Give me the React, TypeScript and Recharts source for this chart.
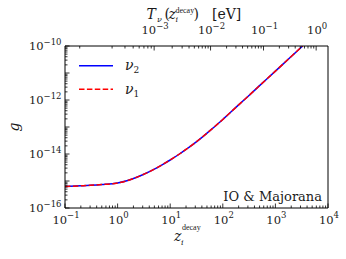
import React from "react";
import { Customized, Legend, Line, LineChart, XAxis, YAxis } from "recharts";

// redshift of decay and the coupling g
const zDecay = [0.1, 0.2, 0.3, 0.5, 1, 1.5, 2, 3, 5, 7, 10, 15, 20, 30, 50, 100, 200, 300, 500, 1000, 2000, 3300];
const gNu2 = [
  6.2e-16, 6.6e-16, 6.9e-16, 7.4e-16, 8.5e-16, 1.02e-15, 1.23e-15, 1.7e-15, 2.75e-15, 3.98e-15, 6.0e-15,
  1.0e-14, 1.48e-14, 2.63e-14, 5.9e-14, 1.9e-13, 6.6e-13, 1.35e-12, 3.4e-12, 1.17e-11, 4.1e-11, 1.0e-10,
];
const gNu1 = [
  6.2e-16, 6.6e-16, 6.9e-16, 7.4e-16, 8.5e-16, 1.02e-15, 1.23e-15, 1.7e-15, 2.75e-15, 3.98e-15, 6.0e-15,
  1.0e-14, 1.48e-14, 2.63e-14, 5.9e-14, 1.9e-13, 6.6e-13, 1.35e-12, 3.4e-12, 1.17e-11, 4.1e-11, 1.0e-10,
];

const xDecades = [-1, 4];
const yDecades = [-16, -10];
const topDecades = [-4, 0];
const T_NU0 = 1.68e-4; // eV, neutrino temperature today

const FONT = "'DejaVu Serif', 'Liberation Serif', serif";
const NARROW = "'Liberation Serif', serif";
const INK = "#1a1a1a";

const data = zDecay.map((z, i) => ({ z, nu2: gNu2[i], nu1: gNu1[i] }));

function logTicks(lo: number, hi: number) {
  const out: number[] = [];
  for (let e = lo; e < hi; e++) for (let m = 1; m < 10; m++) out.push(Number(`${m}e${e}`));
  out.push(Number(`1e${hi}`));
  return out;
}

const isDecade = (v: number) => Math.abs(Math.log10(v) - Math.round(Math.log10(v))) < 1e-6;
const expOf = (v: number) => {
  const e = Math.round(Math.log10(v));
  return e < 0 ? `\u2212${-e}` : `${e}`;
};

const xTicks = logTicks(xDecades[0], xDecades[1]);
const yTicks = logTicks(yDecades[0], yDecades[1]);
const topTicks = logTicks(topDecades[0], topDecades[1])
  .concat([2])
  .map((T) => T / T_NU0 - 1)
  .filter((z) => z >= 0.1 && z <= 1e4);

function Pow10({ x, y, v, anchor }: { x: number; y: number; v: number; anchor: "middle" | "end" }) {
  return (
    <text x={x} y={y} textAnchor={anchor} fontFamily={FONT} fontSize={11.5} fill={INK}>
      <tspan>10</tspan>
      <tspan dy={-5.5} fontSize={8.5}>{expOf(v)}</tspan>
    </text>
  );
}

// ticks: the axis line sits at (x, y) because tickSize and tickMargin are 0
function BottomTick(props: any) {
  const { x, y, payload } = props;
  const major = isDecade(payload.value);
  return (
    <g>
      <line x1={x} x2={x} y1={y} y2={y - (major ? 4.5 : 2.5)} stroke="#000" strokeWidth={0.8} />
      {major && <Pow10 x={x + 1} y={y + 15.5} v={payload.value} anchor="middle" />}
    </g>
  );
}

function TopTick(props: any) {
  const { x, y, payload } = props;
  const T = T_NU0 * (1 + payload.value);
  const major = isDecade(T);
  return (
    <g>
      <line x1={x} x2={x} y1={y} y2={y + (major ? 4.5 : 2.5)} stroke="#000" strokeWidth={0.8} />
      {major && <Pow10 x={x + 1} y={y - 12} v={T} anchor="middle" />}
    </g>
  );
}

function LeftTick(props: any) {
  const { x, y, payload } = props;
  const v = payload.value;
  const major = isDecade(v);
  const labelled = major && Math.round(Math.log10(v)) % 2 === 0;
  return (
    <g>
      <line x1={x} x2={x + (major ? 4.5 : 2.5)} y1={y} y2={y} stroke="#000" strokeWidth={0.8} />
      {labelled && <Pow10 x={x - 3.5} y={y + 4} v={v} anchor="end" />}
    </g>
  );
}

function Annotations() {
  return (
    <g fontFamily={FONT} fill={INK}>
      {/* top axis title */}
      <text y={18.5} fontSize={14}>
        <tspan x={146.5} fontStyle="italic">T</tspan>
        <tspan x={157} y={22} fontSize={8} fontStyle="italic">ν</tspan>
        <tspan x={164.5} y={18.5}>(</tspan>
        <tspan x={168.5} fontStyle="italic">z</tspan>
        <tspan x={175.5} y={12.5} fontSize={8} fontFamily={NARROW}>decay</tspan>
        <tspan x={175.5} y={22} fontSize={8} fontStyle="italic">i</tspan>
        <tspan x={193.5} y={18.5}>)</tspan>
        <tspan x={212}>[eV]</tspan>
      </text>
      {/* bottom axis title */}
      <text y={241} fontSize={14}>
        <tspan x={174} fontStyle="italic">z</tspan>
        <tspan x={182} y={230} fontSize={8} fontFamily={NARROW}>decay</tspan>
        <tspan x={181} y={245} fontSize={8} fontStyle="italic">i</tspan>
      </text>
      {/* y axis title */}
      <text x={19} y={127} fontSize={14} fontStyle="italic" textAnchor="middle" transform="rotate(-90 19 127)">
        g
      </text>
      <text x={322} y={200.5} fontSize={13} textAnchor="end">IO &amp; Majorana</text>
    </g>
  );
}

function LegendBox() {
  return (
    <svg width={80} height={50} style={{ display: "block", overflow: "visible" }}>
      <g fontFamily={FONT} fill={INK}>
        <line x1={4} x2={38} y1={10.7} y2={10.7} stroke="#0000ff" strokeWidth={1.5} />
        <text x={50} y={15} fontSize={14} fontStyle="italic">
          ν<tspan dy={3} fontSize={9} fontStyle="normal">2</tspan>
        </text>
        <line x1={4} x2={38} y1={34.3} y2={34.3} stroke="#ff0000" strokeWidth={1.5} strokeDasharray="5.5 2.4" />
        <text x={50} y={38.5} fontSize={14} fontStyle="italic">
          ν<tspan dy={3} fontSize={9} fontStyle="normal">1</tspan>
        </text>
      </g>
    </svg>
  );
}

export default function App() {
  return (
    <div style={{ position: "absolute", left: 0, top: 0, width: 346, height: 259, background: "#fff" }}>
      <LineChart
        width={346}
        height={259}
        data={data}
        margin={{ top: 26, right: 8, bottom: 31, left: 45 }}
        accessibilityLayer={false}
      >
        <XAxis
          dataKey="z"
          type="number"
          scale="log"
          domain={[0.1, 1e4]}
          allowDataOverflow
          ticks={xTicks}
          interval={0}
          height={20}
          tickSize={0}
          tickMargin={0}
          tickLine={false}
          tick={<BottomTick />}
          axisLine={{ stroke: "#000", strokeWidth: 1 }}
        />
        <XAxis
          xAxisId="top"
          orientation="top"
          dataKey="z"
          type="number"
          scale="log"
          domain={[0.1, 1e4]}
          allowDataOverflow
          ticks={topTicks}
          interval={0}
          height={20}
          tickSize={0}
          tickMargin={0}
          tickLine={false}
          tick={<TopTick />}
          axisLine={{ stroke: "#000", strokeWidth: 1 }}
        />
        <YAxis
          type="number"
          scale="log"
          domain={[1e-16, 1e-10]}
          allowDataOverflow
          ticks={yTicks}
          interval={0}
          width={20}
          tickSize={0}
          tickMargin={0}
          tickLine={false}
          tick={<LeftTick />}
          axisLine={{ stroke: "#000", strokeWidth: 1 }}
        />
        <YAxis
          yAxisId="right"
          orientation="right"
          type="number"
          scale="log"
          domain={[1e-16, 1e-10]}
          allowDataOverflow
          width={10}
          tick={false}
          tickLine={false}
          axisLine={{ stroke: "#000", strokeWidth: 1 }}
        />
        <Line
          dataKey="nu2"
          name="ν2"
          type="monotone"
          stroke="#0000ff"
          strokeWidth={1.5}
          dot={false}
          isAnimationActive={false}
        />
        <Line
          dataKey="nu1"
          name="ν1"
          type="monotone"
          stroke="#ff0000"
          strokeWidth={1.5}
          strokeDasharray="5.5 2.4"
          dot={false}
          isAnimationActive={false}
        />
        <Legend
          layout="horizontal"
          verticalAlign="middle"
          align="center"
          content={() => <LegendBox />}
          wrapperStyle={{ position: "absolute", left: 75, top: 55, width: 80, height: 50 }}
        />
        <Customized component={Annotations} />
      </LineChart>
    </div>
  );
}
